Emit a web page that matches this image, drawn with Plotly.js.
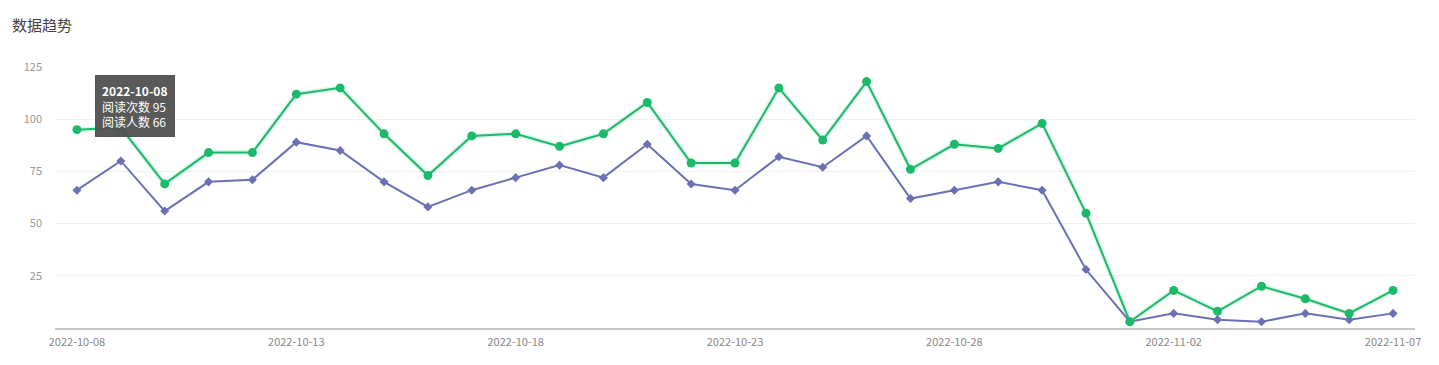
<!DOCTYPE html>
<html>
<head>
<meta charset="utf-8">
<script src="https://cdn.plot.ly/plotly-3.0.1.min.js"></script>
<style>
html,body{margin:0;padding:0;background:#fff;}
#chart{width:1439px;height:365px;}
</style>
</head>
<body>
<div id="chart"></div>
<script>
const dates = ["2022-10-08","2022-10-09","2022-10-10","2022-10-11","2022-10-12","2022-10-13","2022-10-14","2022-10-15","2022-10-16","2022-10-17","2022-10-18","2022-10-19","2022-10-20","2022-10-21","2022-10-22","2022-10-23","2022-10-24","2022-10-25","2022-10-26","2022-10-27","2022-10-28","2022-10-29","2022-10-30","2022-10-31","2022-11-01","2022-11-02","2022-11-03","2022-11-04","2022-11-05","2022-11-06","2022-11-07"];
const readCount = [95,96,69,84,84,112,115,93,73,92,93,87,93,108,79,79,115,90,118,76,88,86,98,55,3,18,8,20,14,7,18];
const readUsers = [66,80,56,70,71,89,85,70,58,66,72,78,72,88,69,66,82,77,92,62,66,70,66,28,3,7,4,3,7,4,7];
const tickDates = ["2022-10-08","2022-10-13","2022-10-18","2022-10-23","2022-10-28","2022-11-02","2022-11-07"];
const yTicks = [25,50,75,100,125];
const seriesNames = ["阅读次数","阅读人数"];
const titleText = "数据趋势";

const green = "#1bb96a";
const purple = "#6b70b5";
const font = "'Noto Sans CJK SC', 'Noto Sans', sans-serif";

const traces = [
  {x: dates, y: readCount, name: seriesNames[0], type: "scatter", mode: "lines",
   line: {color: "rgba(27,185,106,0.15)", width: 5}, hoverinfo: "skip", showlegend: false},
  {x: dates, y: readUsers, name: seriesNames[1], type: "scatter", mode: "lines+markers",
   line: {color: purple, width: 2}, marker: {symbol: "diamond", size: 7, color: purple}},
  {x: dates, y: readCount, name: seriesNames[0], type: "scatter", mode: "lines+markers",
   line: {color: green, width: 2}, marker: {symbol: "circle", size: 9, color: green}}
];

const layout = {
  width: 1439, height: 365,
  margin: {l: 55, r: 24, t: 67, b: 37},
  paper_bgcolor: "#fff", plot_bgcolor: "#fff",
  showlegend: false,
  hovermode: false,
  font: {family: font, color: "#888", size: 11},
  title: {text: titleText, x: 0, xref: "paper", xanchor: "left", y: 1, yref: "container", yanchor: "top",
          pad: {t: 20, l: -43}, font: {family: font, size: 15, color: "#444"}},
  xaxis: {
    type: "date",
    range: ["2022-10-07 12:00", "2022-11-07 12:00"],
    tickvals: tickDates, ticktext: tickDates,
    showgrid: false, zeroline: false,
    showline: true, linecolor: "#c8c8c8", linewidth: 2,
    ticks: "", ticklen: 0, ticklabelstandoff: 3,
    tickfont: {family: font, size: 11, color: "#888"},
    automargin: false
  },
  yaxis: {
    range: [0, 125],
    tickvals: yTicks,
    showgrid: true, gridcolor: "#f0f0f0", gridwidth: 1,
    zeroline: false, showline: false,
    ticks: "", ticklabelstandoff: 12,
    tickfont: {family: font, size: 11, color: "#999"},
    automargin: false
  },
  annotations: [{
    x: dates[0], y: 125, xref: "x", yref: "y",
    xanchor: "left", yanchor: "top", align: "left",
    xshift: 18, yshift: -8,
    text: "<b>" + dates[0] + "</b><br>" + seriesNames[0] + " " + readCount[0] + "<br>" + seriesNames[1] + " " + readUsers[0],
    showarrow: false,
    bgcolor: "rgba(80,80,80,0.95)", bordercolor: "rgba(80,80,80,0.95)", borderpad: 6,
    font: {family: font, size: 12, color: "#fff"}
  }]
};

Plotly.newPlot("chart", traces, layout, {displayModeBar: false, staticPlot: true});
</script>
</body>
</html>
